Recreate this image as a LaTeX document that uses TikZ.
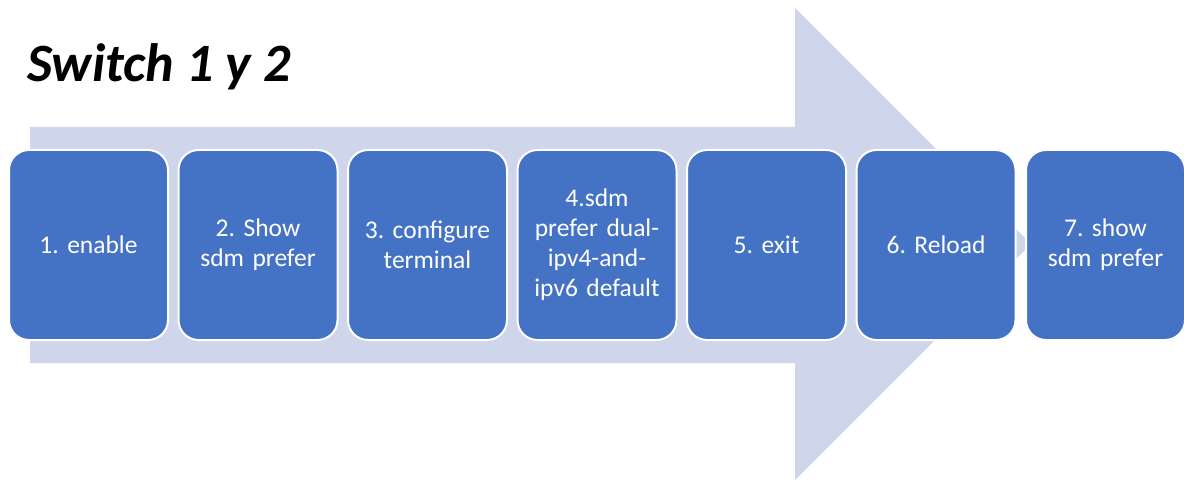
\documentclass[tikz,border=0pt]{standalone}
\usepackage{fontspec}
\setmainfont{Carlito}
\frenchspacing
\begin{document}
\begin{tikzpicture}[x=1pt,y=1pt,
  stepbox/.style={rectangle, rounded corners=20pt, fill=boxblue, draw=white,
    line width=2pt, minimum width=159pt, minimum height=190pt,
    text width=155pt, align=center, text=white, inner sep=0pt,
    font=\fontsize{25.5}{30}\selectfont},
  flowarrow/.style={fill=arrowgray, draw=none}]
\definecolor{boxblue}{HTML}{4472C4}
\definecolor{arrowgray}{HTML}{CFD5EA}
\useasboundingbox (0,0) rectangle (1184,480);
% wide background arrow
\fill[flowarrow] (30,117) -- (30,353) -- (795,353) -- (795,472) -- (1031,236)
  -- (795,0) -- (795,117) -- cycle;
% title
\node[anchor=base west, inner sep=0pt,
  font=\fontsize{54}{60}\selectfont\bfseries\itshape] (title) at (27,398) {Switch 1 y 2};
% steps
\node[stepbox] (s1) at (88.5,235) {1. enable};
\node[stepbox] (s2) at (258,235) {2. Show\\sdm prefer};
\node[stepbox] (s3) at (427.5,235) {3. configure\\terminal};
\node[stepbox] (s4) at (597,235) {4.sdm\\prefer dual-\\ipv4-and-\\ipv6 default};
\node[stepbox] (s5) at (766.5,235) {5. exit};
\node[stepbox] (s6) at (936,235) {6. Reload};
\node[stepbox] (s7) at (1105.5,235) {7. show\\sdm prefer};
\end{tikzpicture}
\end{document}
